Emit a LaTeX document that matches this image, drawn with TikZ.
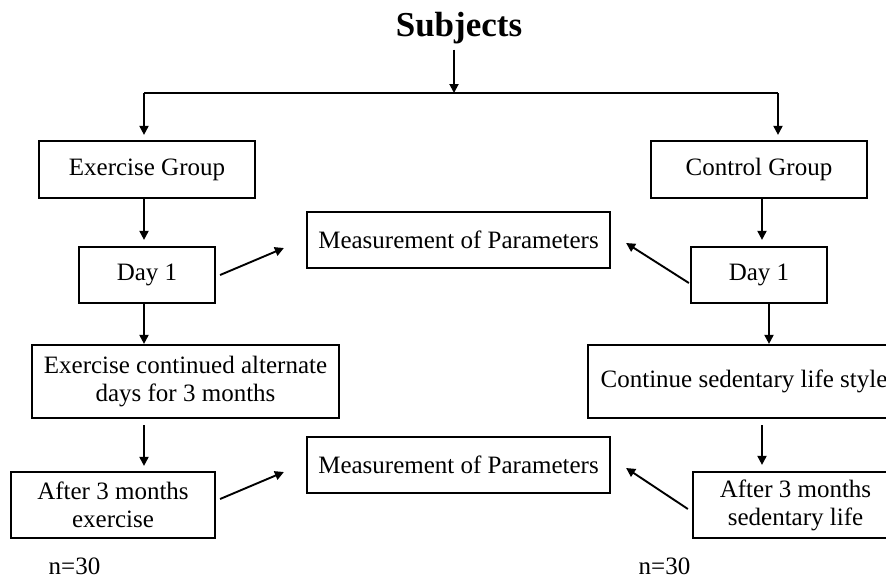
\documentclass[tikz,border=0pt]{standalone}
\usepackage{fontspec}
\setmainfont{Liberation Serif}
\usetikzlibrary{arrows.meta}
\begin{document}
\begin{tikzpicture}[x=1pt,y=-1pt,
  box/.style={draw, line width=2.2pt, inner sep=0pt, align=center,
    font=\fontsize{25}{28}\selectfont},
  lbl/.style={inner sep=0pt, font=\fontsize{25}{28}\selectfont},
  arr/.style={line width=1.9pt, -{Triangle[length=9pt,width=9pt]}},
  ln/.style={line width=1.9pt}]
\useasboundingbox (0,0) rectangle (886,579);
\clip (0,0) rectangle (886,579);
% nodes
\node[inner sep=0pt, anchor=base, font=\fontsize{35}{40}\selectfont\bfseries] (subj) at (459,36) {Subjects};
\node[box, minimum width=216pt, minimum height=57pt] (EG) at (147,169.5) {Exercise Group};
\node[box, minimum width=216pt, minimum height=57pt] (CG) at (759,169.5) {Control Group};
\node[box, minimum width=136pt, minimum height=56pt] (D1L) at (147,275) {Day 1};
\node[box, minimum width=136pt, minimum height=56pt] (D1R) at (759,275) {Day 1};
\node[box, minimum width=303pt, minimum height=56pt] (M1) at (458.5,240) {Measurement of Parameters};
\node[box, minimum width=307pt, minimum height=73pt] (EC) at (185.5,381.5) {Exercise continued alternate\\days for 3 months};
\node[box, minimum width=312pt, minimum height=73pt] (CS) at (744,381.5) {Continue sedentary life style};
\node[box, minimum width=204pt, minimum height=66pt] (AE) at (113,505) {After 3 months\\exercise};
\node[box, minimum width=303pt, minimum height=56pt] (M2) at (458.5,465) {Measurement of Parameters};
\node[box, minimum width=205pt, minimum height=66pt] (AS) at (795.5,505) {After 3 months\\sedentary life};
\node[lbl, anchor=base] (n1) at (74.5,574) {n=30};
\node[lbl, anchor=base] (n2) at (664.5,574) {n=30};
% helper coordinates
\coordinate (split) at (454,93);
\coordinate (lc) at (144,93);
\coordinate (rc) at (778,93);
\coordinate (rx) at (762,0);
\coordinate (rx2) at (769,0);
% connectors
\draw[arr, shorten <=6pt] (subj.south -| split) -- (split);
\draw[ln] (lc) -- (rc);
\draw[arr, shorten >=5pt] (lc) -- (lc |- EG.north);
\draw[arr, shorten >=5pt] (rc) -- (rc |- CG.north);
\draw[arr, shorten >=6pt] (EG.south -| lc) -- (D1L.north -| lc);
\draw[arr, shorten >=6pt] (CG.south -| rx) -- (D1R.north -| rx);
\draw[arr] (D1L.south -| lc) -- (EC.north -| lc);
\draw[arr] (D1R.south -| rx2) -- (CS.north -| rx2);
\draw[arr, shorten <=6pt, shorten >=5pt] (EC.south -| lc) -- (AE.north -| lc);
\draw[arr, shorten <=6pt, shorten >=6pt] (CS.south -| rx) -- (AS.north -| rx);
\draw[arr] ([xshift=4pt]D1L.east) -- ([xshift=-22pt,yshift=-8pt]M1.west);
\draw[arr] ([xshift=-1pt,yshift=-8pt]D1R.west) -- ([xshift=15pt,yshift=-3pt]M1.east);
\draw[arr] ([xshift=4pt,yshift=6pt]AE.east) -- ([xshift=-22pt,yshift=-7pt]M2.west);
\draw[arr] ([xshift=-4pt,yshift=-4pt]AS.west) -- ([xshift=15pt,yshift=-3pt]M2.east);
\end{tikzpicture}
\end{document}
